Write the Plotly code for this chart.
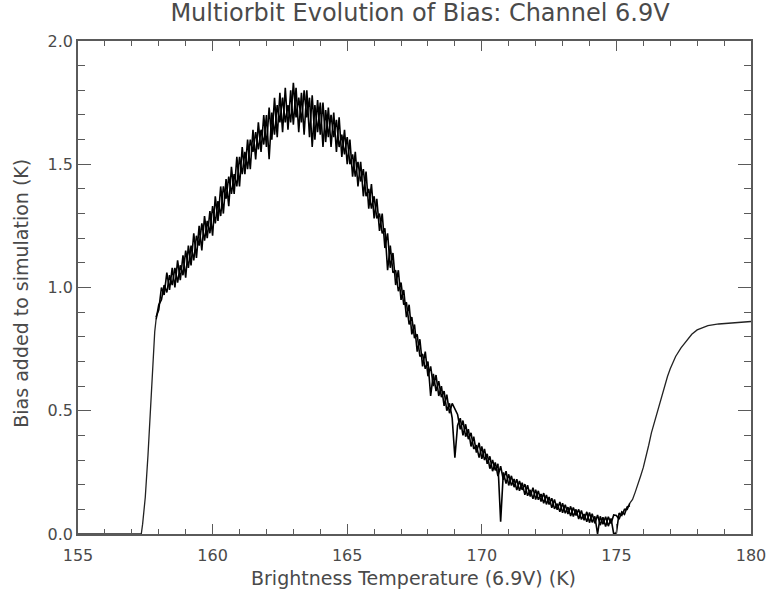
import plotly.graph_objects as go

# ---- data ----
# flat start and steep rise (K)
x_rise = [155.0, 156.7, 157.35, 157.4, 157.5, 157.6, 157.7, 157.8, 157.85]
y_rise = [0.0, 0.0, 0.0, 0.04, 0.15, 0.32, 0.54, 0.72, 0.82]

# noisy band, sampled every 0.1 K from 157.9 to 175.5 (two overlapping orbit traces)
band_start = 157.9
band_step = 0.1
y_band_a = [
    0.87,
    0.93, 0.95, 1.01, 0.98, 1.05, 1.01, 1.08, 1.02, 1.09, 1.05,   # 158.x
    1.15, 1.08, 1.17, 1.11, 1.21, 1.17, 1.26, 1.19, 1.27, 1.22,   # 159.x
    1.33, 1.26, 1.35, 1.29, 1.41, 1.36, 1.45, 1.38, 1.46, 1.41,   # 160.x
    1.53, 1.46, 1.55, 1.48, 1.60, 1.55, 1.63, 1.56, 1.64, 1.58,   # 161.x
    1.70, 1.52, 1.71, 1.62, 1.74, 1.67, 1.77, 1.67, 1.74, 1.67,   # 162.x
    1.83, 1.69, 1.77, 1.67, 1.80, 1.69, 1.77, 1.57, 1.74, 1.63,   # 163.x
    1.75, 1.57, 1.72, 1.61, 1.70, 1.61, 1.68, 1.57, 1.62, 1.54,   # 164.x
    1.61, 1.50, 1.54, 1.45, 1.51, 1.43, 1.48, 1.37, 1.40, 1.32,   # 165.x
    1.37, 1.28, 1.30, 1.22, 1.24, 1.07, 1.17, 1.06, 1.07, 0.985,  # 166.x
    1.02, 0.93, 0.94, 0.85, 0.88, 0.795, 0.81, 0.72, 0.73, 0.67,  # 167.x
    0.70, 0.56, 0.65, 0.58, 0.62, 0.555, 0.58, 0.50, 0.53, 0.47,  # 168.x
    0.31, 0.44, 0.47, 0.40, 0.445, 0.385, 0.41, 0.345, 0.36, 0.31,  # 169.x
    0.355, 0.30, 0.325, 0.265, 0.30, 0.258, 0.285, 0.05, 0.25, 0.205,  # 170.x
    0.242, 0.197, 0.223, 0.178, 0.215, 0.179, 0.202, 0.155, 0.179, 0.143,  # 171.x
    0.18, 0.139, 0.162, 0.125, 0.158, 0.12, 0.145, 0.102, 0.123, 0.09,  # 172.x
    0.125, 0.084, 0.109, 0.073, 0.108, 0.075, 0.10, 0.059, 0.081, 0.05,  # 173.x
    0.087, 0.047, 0.072, 0.0, 0.072, 0.04, 0.07, 0.032, 0.063, 0.0,  # 174.x
    0.005, 0.085, 0.075, 0.10, 0.10, 0.125,                          # 175.0-175.5
]
y_band_b = [
    0.88,
    0.91, 1.00, 0.97, 1.06, 0.99, 1.08, 1.00, 1.11, 1.03, 1.13,   # 158.x
    1.04, 1.17, 1.09, 1.22, 1.12, 1.25, 1.15, 1.29, 1.20, 1.31,   # 159.x
    1.21, 1.37, 1.27, 1.41, 1.30, 1.44, 1.33, 1.49, 1.38, 1.53,   # 160.x
    1.41, 1.57, 1.46, 1.60, 1.48, 1.64, 1.52, 1.67, 1.55, 1.70,   # 161.x
    1.57, 1.73, 1.60, 1.77, 1.61, 1.79, 1.63, 1.81, 1.64, 1.80,   # 162.x
    1.66, 1.81, 1.63, 1.79, 1.62, 1.80, 1.61, 1.78, 1.60, 1.76,   # 163.x
    1.62, 1.75, 1.59, 1.73, 1.57, 1.71, 1.55, 1.69, 1.53, 1.64,   # 164.x
    1.50, 1.60, 1.45, 1.55, 1.41, 1.51, 1.37, 1.47, 1.32, 1.42,   # 165.x
    1.28, 1.36, 1.23, 1.30, 1.16, 1.22, 1.08, 1.14, 1.01, 1.07,   # 166.x
    0.95, 0.99, 0.88, 0.93, 0.81, 0.85, 0.74, 0.79, 0.68, 0.74,   # 167.x
    0.64, 0.68, 0.60, 0.645, 0.56, 0.60, 0.52, 0.565, 0.49, 0.53,  # 168.x
    0.505, 0.485, 0.425, 0.46, 0.395, 0.425, 0.355, 0.395, 0.33, 0.37,  # 169.x
    0.305, 0.345, 0.285, 0.315, 0.255, 0.29, 0.235, 0.275, 0.22, 0.255,  # 170.x
    0.197, 0.236, 0.19, 0.222, 0.175, 0.208, 0.159, 0.198, 0.152, 0.188,  # 171.x
    0.14, 0.175, 0.132, 0.166, 0.12, 0.15, 0.106, 0.14, 0.098, 0.13,  # 172.x
    0.086, 0.119, 0.081, 0.112, 0.071, 0.10, 0.061, 0.095, 0.056, 0.09,  # 173.x
    0.046, 0.082, 0.043, 0.077, 0.036, 0.068, 0.03, 0.07, 0.043, 0.077,  # 174.x
    0.075, 0.06, 0.09, 0.08, 0.11, 0.115,                                # 175.0-175.5
]

# smooth recovery after 175.5 K
x_tail = [175.6, 175.7, 175.8, 175.9, 176.0, 176.1, 176.2, 176.3, 176.4, 176.5,
          176.6, 176.7, 176.8, 176.9, 177.0, 177.1, 177.2, 177.4, 177.6, 177.8,
          178.0, 178.4, 178.8, 179.2, 179.6, 180.0]
y_tail = [0.14, 0.17, 0.20, 0.235, 0.27, 0.31, 0.36, 0.41, 0.45, 0.49,
          0.53, 0.56, 0.60, 0.64, 0.67, 0.695, 0.72, 0.755, 0.785, 0.81,
          0.828, 0.845, 0.852, 0.856, 0.86, 0.862]

x_ticks = [155, 160, 165, 170, 175, 180]
y_ticks = [0.0, 0.5, 1.0, 1.5, 2.0]
y_tick_text = ["0.0", "0.5", "1.0", "1.5", "2.0"]

title_text = "Multiorbit Evolution of Bias: Channel 6.9V"
x_title = "Brightness Temperature (6.9V) (K)"
y_title = "Bias added to simulation (K)"

# ---- assemble ----
x_band = [round(band_start + band_step * i, 2) for i in range(len(y_band_a))]

FONT = "DejaVu Sans"
TXT = "#4a4a4a"
AX = "#5a5a5a"

fig = go.Figure()
fig.add_trace(go.Scatter(
    x=x_rise + x_band[:1], y=y_rise + y_band_a[:1], mode="lines",
    line=dict(color="#222222", width=1.3), showlegend=False, hoverinfo="skip",
))
for yb in (y_band_a, y_band_b):
    fig.add_trace(go.Scatter(
        x=x_band, y=yb, mode="lines",
        line=dict(color="#000000", width=1.6), showlegend=False, hoverinfo="skip",
    ))
fig.add_trace(go.Scatter(
    x=x_band[-1:] + x_tail, y=y_band_a[-1:] + y_tail, mode="lines",
    line=dict(color="#222222", width=1.3), showlegend=False, hoverinfo="skip",
))

fig.update_layout(
    width=770, height=594,
    margin=dict(l=78, r=19, t=41, b=60, autoexpand=False),
    paper_bgcolor="white", plot_bgcolor="white",
    title=dict(text=title_text, x=0.5455, xanchor="center", xref="container",
               y=0.979, yanchor="middle", yref="container",
               font=dict(family=FONT, size=24, color=TXT)),
    font=dict(family=FONT, color=TXT),
    annotations=[
        dict(text=x_title, xref="paper", yref="paper", x=0.499, y=-0.089,
             xanchor="center", yanchor="middle", showarrow=False,
             font=dict(family=FONT, size=19, color=TXT)),
        dict(text=y_title, xref="paper", yref="paper", x=-0.085, y=0.489,
             xanchor="center", yanchor="middle", textangle=-90, showarrow=False,
             font=dict(family=FONT, size=19, color=TXT)),
    ],
)

fig.update_xaxes(
    range=[155, 180], tickvals=x_ticks, ticktext=[str(v) for v in x_ticks],
    showgrid=False, zeroline=False, automargin=False,
    showline=True, linecolor=AX, linewidth=1.6, mirror="ticks",
    ticks="inside", ticklen=10, tickwidth=1.3, tickcolor=AX,
    minor=dict(dtick=1, ticks="inside", ticklen=5, tickwidth=1.2, tickcolor=AX, showgrid=False),
    tickfont=dict(family=FONT, size=16, color=TXT),
    ticklabelstandoff=6,
)
fig.update_yaxes(
    range=[0, 2.0], tickvals=y_ticks, ticktext=y_tick_text,
    showgrid=False, zeroline=False, automargin=False,
    showline=True, linecolor=AX, linewidth=1.6, mirror="ticks",
    ticks="inside", ticklen=13, tickwidth=1.3, tickcolor=AX,
    minor=dict(dtick=0.1, ticks="inside", ticklen=7, tickwidth=1.2, tickcolor=AX, showgrid=False),
    tickfont=dict(family=FONT, size=16, color=TXT),
    ticklabelstandoff=0,
)

# remove the browser's default 8px body margin so the figure sits at the page corner
fig.write_html("out.html", config={"displayModeBar": False},
               post_script="document.body.style.margin='0px';")
